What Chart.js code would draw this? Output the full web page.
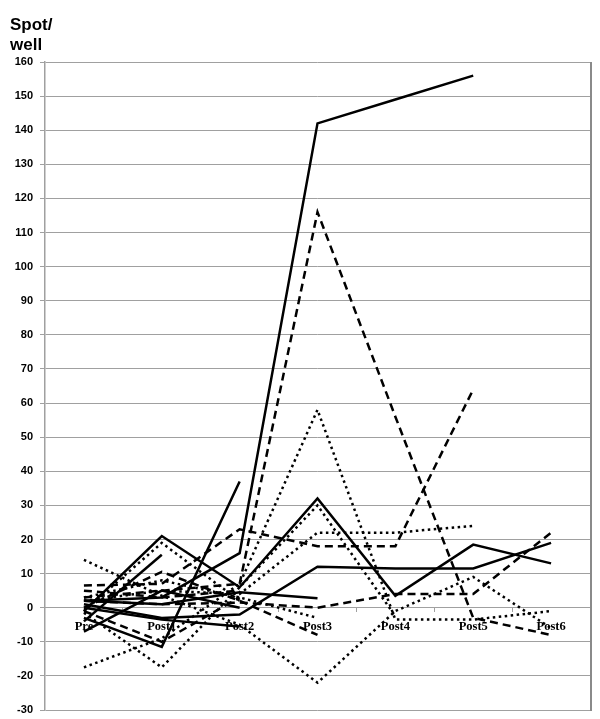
<!DOCTYPE html>
<html>
<head>
<meta charset="utf-8">
<script src="https://cdn.jsdelivr.net/npm/chart.js@4"></script>
<style>
    html, body { margin: 0; padding: 0; background: #fff; }
    #wrap { width: 600px; height: 719px; }
</style>
</head>
<body>
<div id="wrap"><canvas id="chartSpots"></canvas></div>
<script>
/* spot/well per visit, all series black */

const categories = ["Pre", "Post1", "Post2", "Post3", "Post4", "Post5", "Post6"];
const axisTitle = ["Spot/", "well"];

const yMin = -30;
const yMax = 160;
const yStep = 10;

// solid lines
const solidA = [2, 3, 16, 142, 149, 156, null];
const solidB = [-4, 15.5, null, null, null, null, null];
const solidC = [-3, -11.5, 37, null, null, null, null];
const solidD = [-1, 21, 6, 32, 3.5, 18.5, 13];
const solidE = [1, -3, -2, 12, 11.5, 11.5, 19];
const solidF = [0, -3.5, -5.5, null, null, null, null];
const solidG = [2, 1, 4.5, 2.8, null, null, null];
const solidH = [-7, 5, 0, null, null, null, null];

// dashed lines
const dashedA = [3, 5, 7, 116, 56, -3, -8];
const dashedB = [6.5, 7, 23, 18, 18, 64, null];
const dashedC = [2, 1, 1.5, 0, 4, 4, 22];
const dashedD = [0, 10.5, 2, -8, null, null, null];
const dashedE = [-1, -10, 3, null, null, null, null];
const dashedF = [5, 3, 5, null, null, null, null];

// dotted lines
const dottedA = [14, 3.5, -5, -22, -1, 9, -6];
const dottedB = [-17.5, -9, 7, 58, -3.5, -3.5, -1];
const dottedC = [-1.5, -17.5, 6, 30, -2.5, null, null];
const dottedD = [2, 5, 4, 22, 22, 24, null];
const dottedE = [3, 8, 3, -3, null, null, null];
const dottedF = [-1, 19, 2, null, null, null, null];

const solidSeries = [solidA, solidB, solidC, solidD, solidE, solidF, solidG, solidH];
const dashedSeries = [dashedA, dashedB, dashedC, dashedD, dashedE, dashedF];
const dottedSeries = [dottedA, dottedB, dottedC, dottedD, dottedE, dottedF];

function makeDataset(values, dash) {

    return {
        data: values,
        borderColor: "#000",
        borderWidth: 2.5,
        borderDash: dash,
        pointRadius: 0,
        tension: 0,
        fill: false,
        spanGaps: false
    };

}

const datasets = []
    .concat(solidSeries.map(v => makeDataset(v, [])))
    .concat(dashedSeries.map(v => makeDataset(v, [8, 5])))
    .concat(dottedSeries.map(v => makeDataset(v, [2.5, 3.5])));

// frame on the right and the two-line axis title top left
const decorations = {
    id: "decorations",
    afterDraw(chart) {
        const a = chart.chartArea;
        const c = chart.ctx;
        c.save();
        c.strokeStyle = "#8a8a8a";
        c.lineWidth = 2;
        c.beginPath();
        c.moveTo(a.right + 1, a.top);
        c.lineTo(a.right + 1, a.bottom + 1);
        c.stroke();

        c.fillStyle = "#000";
        c.font = "bold 17px 'Liberation Sans', Arial, sans-serif";
        c.textAlign = "left";
        c.textBaseline = "alphabetic";
        c.fillText(axisTitle[0], 10, 30);
        c.fillText(axisTitle[1], 10, 50);
        c.restore();
    }
};

const ctx = document.getElementById("chartSpots").getContext("2d");

new Chart(ctx, {

    type: "line",

    data: {
        labels: categories,
        datasets: datasets
    },

    plugins: [decorations],

    options: {

        responsive: true,
        maintainAspectRatio: false,
        animation: false,

        layout: {
            padding: { left: 0, top: 62, right: 10, bottom: 9 }
        },

        plugins: {
            legend: { display: false },
            tooltip: { enabled: false },
            title: { display: false }
        },

        scales: {

            x: {
                type: "category",
                position: { y: 0 },
                offset: true,
                afterFit(scale) {
                    scale.paddingLeft = 0;
                    scale.paddingRight = 0;
                    scale.paddingBottom = 0;
                },
                grid: {
                    offset: true,
                    drawOnChartArea: false,
                    drawTicks: true,
                    tickLength: 4,
                    color: "#a0a0a0"
                },
                border: { color: "#a0a0a0", width: 1 },
                ticks: {
                    color: "#000",
                    padding: 8,
                    maxRotation: 0,
                    font: { family: "Liberation Serif", size: 12.5, weight: "bold" }
                }
            },

            y: {
                min: yMin,
                max: yMax,
                afterFit(scale) {
                    scale.width = 45;
                    scale.paddingTop = 0;
                    scale.paddingBottom = 0;
                },
                grid: {
                    color: "#a0a0a0",
                    lineWidth: 1,
                    tickLength: 5
                },
                border: { color: "#a0a0a0", width: 1.5 },
                ticks: {
                    stepSize: yStep,
                    color: "#000",
                    padding: 7,
                    font: { family: "Liberation Sans", size: 11, weight: "bold" }
                }
            }

        }

    }

});
</script>
</body>
</html>
